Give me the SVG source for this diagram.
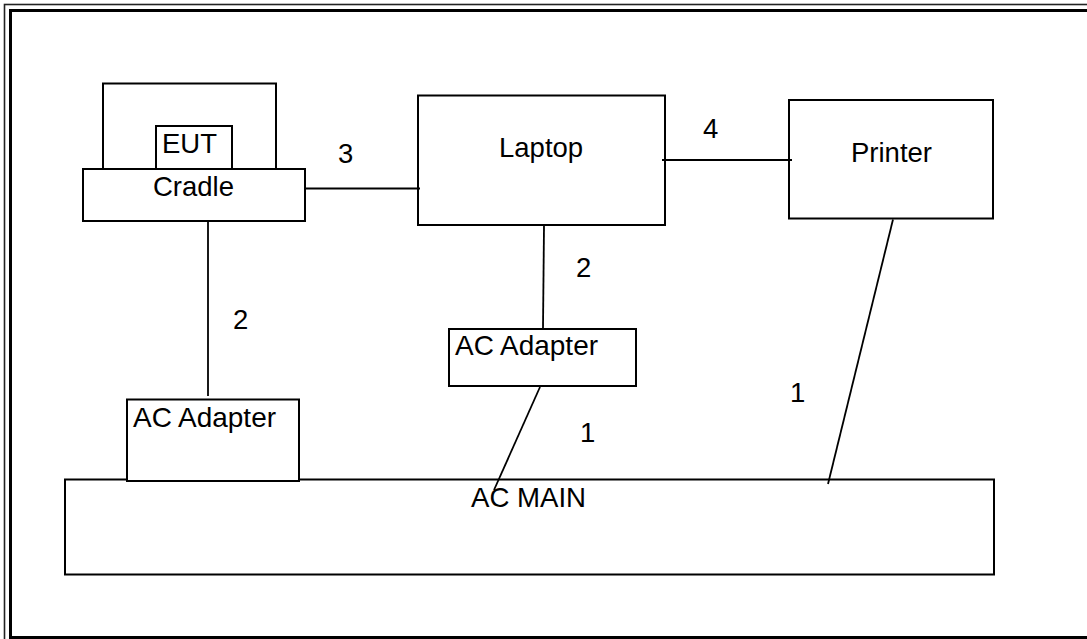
<svg xmlns="http://www.w3.org/2000/svg" width="1087" height="639" viewBox="0 0 1087 639">
<style>
.box{fill:#fff;stroke:#000;stroke-width:2}
.ln{stroke:#000;stroke-width:1.8;fill:none}
text{font-family:"Liberation Sans",Arial,sans-serif;font-size:27.5px;fill:#000}
</style>
<rect width="1087" height="639" fill="#fff"/>
<g id="frame">
<rect x="4.5" y="4.5" width="1100" height="650" fill="none" stroke="#222" stroke-width="1.6"/>
<rect x="10.5" y="10.5" width="1100" height="627" fill="none" stroke="#000" stroke-width="3"/>
</g>
<g id="ac-main">
<rect class="box" x="65" y="479.5" width="929" height="95"/>
<text x="471" y="507" textLength="115" lengthAdjust="spacingAndGlyphs">AC MAIN</text>
</g>
<g id="eut-device">
<rect class="box" x="103" y="83.5" width="173" height="86"/>
</g>
<g id="eut">
<rect class="box" x="156" y="126" width="76" height="43"/>
<text x="162" y="152.5">EUT</text>
</g>
<g id="cradle">
<rect class="box" x="83" y="169" width="222" height="52"/>
<text x="153" y="196">Cradle</text>
</g>
<g id="laptop">
<rect class="box" x="418" y="95.5" width="247" height="129.5"/>
<text x="499" y="157">Laptop</text>
</g>
<g id="printer">
<rect class="box" x="789" y="100" width="204" height="118.5"/>
<text x="851" y="161.5">Printer</text>
</g>
<g id="ac-adapter-left">
<rect class="box" x="127" y="399.5" width="172" height="81.5"/>
<text x="133" y="426.5" textLength="143" lengthAdjust="spacingAndGlyphs">AC Adapter</text>
</g>
<g id="ac-adapter-mid">
<rect class="box" x="449" y="329" width="187" height="57"/>
<text x="455" y="355" textLength="143" lengthAdjust="spacingAndGlyphs">AC Adapter</text>
</g>
<g id="connectors">
<line class="ln" x1="306" y1="188.5" x2="420" y2="188.5"/>
<line class="ln" x1="662" y1="160" x2="792" y2="160"/>
<line class="ln" x1="208" y1="222" x2="208" y2="396"/>
<line class="ln" x1="544" y1="226" x2="543" y2="328"/>
<line class="ln" x1="540" y1="387" x2="494" y2="490"/>
<line class="ln" x1="893" y1="219.5" x2="828" y2="484"/>
</g>
<g id="labels">
<text x="338" y="163">3</text>
<text x="703" y="137.5">4</text>
<text x="576" y="277">2</text>
<text x="233" y="329">2</text>
<text x="580" y="442">1</text>
<text x="790" y="402">1</text>
</g>
</svg>
